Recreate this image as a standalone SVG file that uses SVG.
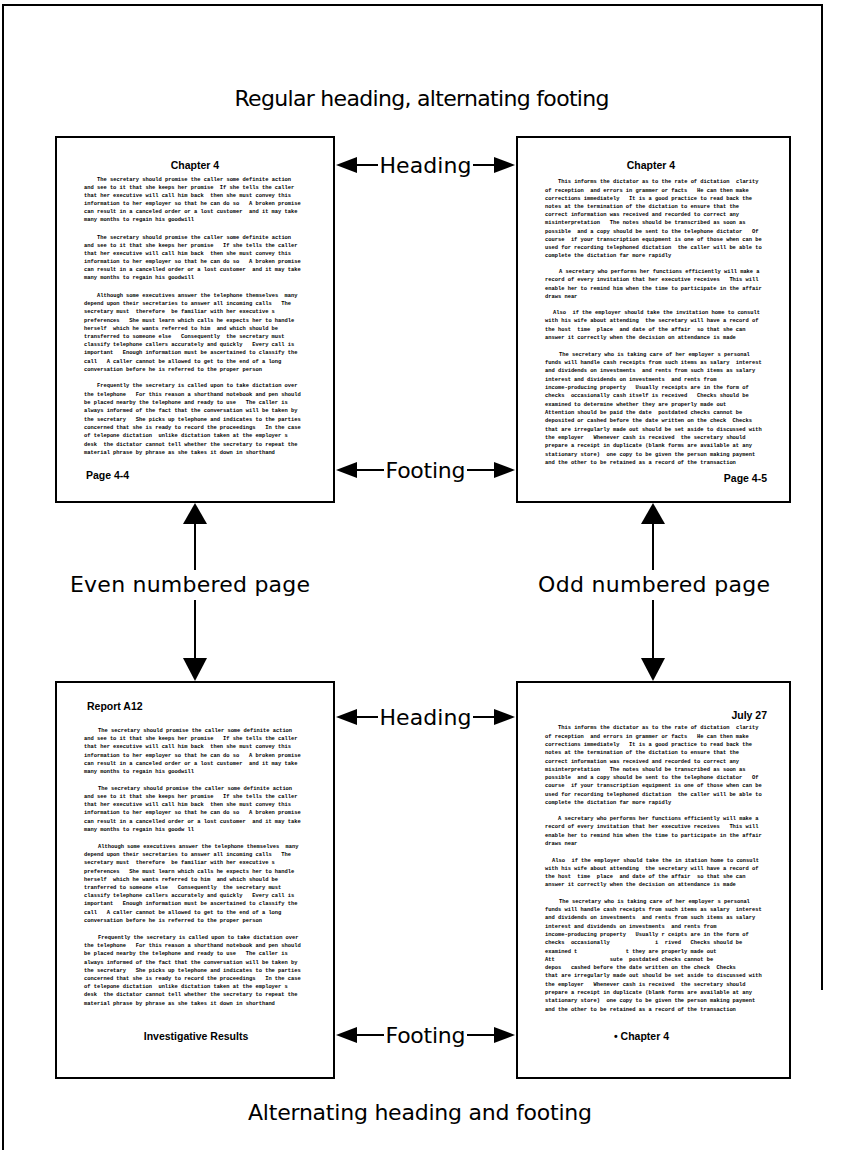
<svg xmlns="http://www.w3.org/2000/svg" width="844" height="1150" viewBox="0 0 844 1150">
<style>
.pg{fill:#fff;stroke:#000;stroke-width:2}
.bd{font-family:"Liberation Mono","DejaVu Sans Mono",monospace;font-size:5.4px;font-weight:bold;fill:#000;white-space:pre}
.hd{font-family:"Liberation Sans",Arial,sans-serif;font-size:10.5px;font-weight:bold;fill:#000}
.lb{font-family:"DejaVu Sans","Liberation Sans",sans-serif;font-size:22px;fill:#000}
.ln{stroke:#000;stroke-width:2;fill:none}
.ah{fill:#000;stroke:none}
</style>
<rect width="844" height="1150" fill="#fff"/>
<path id="frame" class="ln" d="M3,1150 V5 H822 V990" stroke-width="1.5"/>

<text class="lb" x="422" y="106" text-anchor="middle" font-size="21" textLength="375">Regular heading, alternating footing</text>
<text class="lb" x="420" y="1120" text-anchor="middle" font-size="21" textLength="344">Alternating heading and footing</text>

<g id="page-top-left">
<rect class="pg" x="56" y="137" width="278" height="365"/>
<text class="hd" x="195" y="169" text-anchor="middle">Chapter 4</text>
<text class="bd" xml:space="preserve"><tspan x="97" y="181">The secretary should promise the caller some definite action</tspan><tspan x="84" y="189">and see to it that she keeps her promise  If she tells the caller</tspan><tspan x="84" y="197">that her executive will call him back  then she must convey this</tspan><tspan x="84" y="205">information to her employer so that he can do so   A broken promise</tspan><tspan x="84" y="213">can result in a canceled order or a lost customer  and it may take</tspan><tspan x="84" y="221">many months to regain his goodwill</tspan></text>
<text class="bd" xml:space="preserve"><tspan x="97" y="239">The secretary should promise the caller some definite action</tspan><tspan x="84" y="247">and see to it that she keeps her promise   If she tells the caller</tspan><tspan x="84" y="255">that her executive will call him back  then she must convey this</tspan><tspan x="84" y="263">information to her employer so that he can do so   A broken promise</tspan><tspan x="84" y="271">can result in a cancelled order or a lost customer  and it may take</tspan><tspan x="84" y="279">many months to regain his goodwill</tspan></text>
<text class="bd" xml:space="preserve"><tspan x="97" y="297">Although some executives answer the telephone themselves  many</tspan><tspan x="84" y="305.2">depend upon their secretaries to answer all incoming calls   The</tspan><tspan x="84" y="313.4">secretary must  therefore  be familiar with her executive s</tspan><tspan x="84" y="321.6">preferences   She must learn which calls he expects her to handle</tspan><tspan x="84" y="329.8">herself  which he wants referred to him  and which should be</tspan><tspan x="84" y="338">transferred to someone else   Consequently  the secretary must</tspan><tspan x="84" y="346.2">classify telephone callers accurately and quickly   Every call is</tspan><tspan x="84" y="354.4">important   Enough information must be ascertained to classify the</tspan><tspan x="84" y="362.6">call   A caller cannot be allowed to get to the end of a long</tspan><tspan x="84" y="370.8">conversation before he is referred to the proper person</tspan></text>
<text class="bd" xml:space="preserve"><tspan x="97" y="387.3">Frequently the secretary is called upon to take dictation over</tspan><tspan x="84" y="395.6">the telephone   For this reason a shorthand notebook and pen should</tspan><tspan x="84" y="404">be placed nearby the telephone and ready to use   The caller is</tspan><tspan x="84" y="412.3">always informed of the fact that the conversation will be taken by</tspan><tspan x="84" y="420.6">the secretary   She picks up telephone and indicates to the parties</tspan><tspan x="84" y="429">concerned that she is ready to record the proceedings   In the case</tspan><tspan x="84" y="437.3">of telepone dictation  unlike dictation taken at the employer s</tspan><tspan x="84" y="445.6">desk  the dictator cannot tell whether the secretary to repeat the</tspan><tspan x="84" y="454">material phrase by phrase as she takes it down in shorthand</tspan></text>
<text class="hd" x="86" y="479">Page 4-4</text>
</g>

<g id="page-top-right">
<rect class="pg" x="517" y="137" width="273" height="365"/>
<text class="hd" x="651" y="169" text-anchor="middle">Chapter 4</text>
<text class="bd" xml:space="preserve"><tspan x="558" y="183.3">This informs the dictator as to the rate of dictation  clarity</tspan><tspan x="545" y="191.5">of reception  and errors in grammer or facts   He can then make</tspan><tspan x="545" y="199.7">corrections immediately   It is a good practice to read back the</tspan><tspan x="545" y="207.9">notes at the termination of the dictation to ensure that the</tspan><tspan x="545" y="216.1">correct information was received and recorded to correct any</tspan><tspan x="545" y="224.3">misinterpretation   The notes should be transcribed as soon as</tspan><tspan x="545" y="232.5">possible  and a copy should be sent to the telephone dictator   Of</tspan><tspan x="545" y="240.7">course  if your transcription equipment is one of those when can be</tspan><tspan x="545" y="248.9">used for recording telephoned dictation  the caller will be able to</tspan><tspan x="545" y="257">complete the dictation far more rapidly</tspan></text>
<text class="bd" xml:space="preserve"><tspan x="559" y="273.3">A secretary who performs her functions efficiently will make a</tspan><tspan x="545" y="281.4">record of every invitation that her executive receives   This will</tspan><tspan x="545" y="289.5">enable her to remind him when the time to participate in the affair</tspan><tspan x="545" y="297.7">draws near</tspan></text>
<text class="bd" xml:space="preserve"><tspan x="553" y="314">Also  if the employer should take the invitation home to consult</tspan><tspan x="545" y="322.3">with his wife about attending  the secretary will have a record of</tspan><tspan x="545" y="330.7">the host  time  place  and date of the affair  so that she can</tspan><tspan x="545" y="339">answer it correctly when the decision on attendance is made</tspan></text>
<text class="bd" xml:space="preserve"><tspan x="559" y="355.7">The secretary who is taking care of her employer s personal</tspan><tspan x="545" y="364">funds will handle cash receipts from such items as salary  interest</tspan><tspan x="545" y="372.4">and dividends on investments  and rents from such items as salary</tspan><tspan x="545" y="380.7">interest and dividends on investments  and rents from</tspan><tspan x="545" y="389">income-producing property   Usually receipts are in the form of</tspan><tspan x="545" y="397.4">checks  occasionally cash itself is received   Checks should be</tspan><tspan x="545" y="405.7">examined to determine whether they are properly made out</tspan><tspan x="545" y="414">Attention should be paid the date  postdated checks cannot be</tspan><tspan x="545" y="422.3">deposited or cashed before the date written on the check  Checks</tspan><tspan x="545" y="430.7">that are irregularly made out should be set aside to discussed with</tspan><tspan x="545" y="439">the employer   Whenever cash is received  the secretary should</tspan><tspan x="545" y="447.3">prepare a receipt in duplicate (blank forms are available at any</tspan><tspan x="545" y="455.7">stationary store)  one copy to be given the person making payment</tspan><tspan x="545" y="464">and the other to be retained as a record of the transaction</tspan></text>
<text class="hd" x="767" y="482" text-anchor="end">Page 4-5</text>
</g>

<g id="page-bottom-left">
<rect class="pg" x="56" y="682" width="278" height="396"/>
<text class="hd" x="87" y="710">Report A12</text>
<text class="bd" xml:space="preserve"><tspan x="98" y="731.7">The secretary should promise the caller some definite action</tspan><tspan x="84" y="740">and see to it that she keeps her promise   If she tells the caller</tspan><tspan x="84" y="748.3">that her executive will call him back  then she must convey this</tspan><tspan x="84" y="756.7">information to her employer so that he can do so   A broken promise</tspan><tspan x="84" y="765">can result in a canceled order or a lost customer  and it may take</tspan><tspan x="84" y="773.3">many months to regain his goodwill</tspan></text>
<text class="bd" xml:space="preserve"><tspan x="98" y="790">The secretary should promise the caller some definite action</tspan><tspan x="84" y="798.3">and see to it that she keeps her promise   If she tells the caller</tspan><tspan x="84" y="806.3">that her executive will call him back  then she must convey this</tspan><tspan x="84" y="814.3">information to her employer so that he can do so   A broken promise</tspan><tspan x="84" y="822.7">can result in a cancelled order or a lost customer  and it may take</tspan><tspan x="84" y="831">many months to regain his goodw ll</tspan></text>
<text class="bd" xml:space="preserve"><tspan x="98" y="848">Although some executives answer the telephone themselves  many</tspan><tspan x="84" y="856.2">depend upon their secretaries to answer all incoming calls   The</tspan><tspan x="84" y="864.4">secretary must  therefore  be familiar with her executive s</tspan><tspan x="84" y="872.6">preferences   She must learn which calls he expects her to handle</tspan><tspan x="84" y="880.8">herself  which he wants referred to him  and which should be</tspan><tspan x="84" y="889">tranferred to someone else   Consequently  the secretary must</tspan><tspan x="84" y="897.2">classify telephone callers accurately and quickly   Every call is</tspan><tspan x="84" y="905.4">important   Enough information must be ascertained to classify the</tspan><tspan x="84" y="913.6">call   A caller cannot be allowed to get to the end of a long</tspan><tspan x="84" y="921.8">conversation before he is referred to the proper person</tspan></text>
<text class="bd" xml:space="preserve"><tspan x="98" y="939">Frequently the secretary is called upon to take dictation over</tspan><tspan x="84" y="947.2">the telephone   For this reason a shorthand notebook and pen should</tspan><tspan x="84" y="955.4">be placed nearby the telephone and ready to use   The caller is</tspan><tspan x="84" y="963.6">always informed of the fact that the conversation will be taken by</tspan><tspan x="84" y="971.8">the secretary   She picks up telephone and indicates to the parties</tspan><tspan x="84" y="980">concerned that she is ready to record the proceedings   In the case</tspan><tspan x="84" y="988.2">of telepone dictation  unlike dictation taken at the employer s</tspan><tspan x="84" y="996.4">desk  the dictator cannot tell whether the secretary to repeat the</tspan><tspan x="84" y="1004.6">material phrase by phrase as she takes it down in shorthand</tspan></text>
<text class="hd" x="196" y="1040" text-anchor="middle">Investigative Results</text>
</g>

<g id="page-bottom-right">
<rect class="pg" x="517" y="682" width="273" height="396"/>
<text class="hd" x="767" y="719" text-anchor="end">July 27</text>
<text class="bd" xml:space="preserve"><tspan x="558" y="729.3">This informs the dictator as to the rate of dictation  clarity</tspan><tspan x="545" y="737.6">of reception  and errors in grammer or facts   He can then make</tspan><tspan x="545" y="745.9">corrections immediately   It is a good practice to read back the</tspan><tspan x="545" y="754.2">notes at the termination of the dictation to ensure that the</tspan><tspan x="545" y="762.5">correct information was received and recorded to correct any</tspan><tspan x="545" y="770.8">misinterpretation   The notes should be transcribed as soon as</tspan><tspan x="545" y="779.1">possible  and a copy should be sent to the telephone dictator   Of</tspan><tspan x="545" y="787.4">course  if your transcription equipment is one of those when can be</tspan><tspan x="545" y="795.7">used for recording telephoned dictation  the caller will be able to</tspan><tspan x="545" y="804">complete the dictation far more rapidly</tspan></text>
<text class="bd" xml:space="preserve"><tspan x="558" y="820">A secretary who performs her functions efficiently will make a</tspan><tspan x="545" y="828.3">record of every invitation that her executive receives   This will</tspan><tspan x="545" y="836.7">enable her to remind him when the time to participate in the affair</tspan><tspan x="545" y="845">draws near</tspan></text>
<text class="bd" xml:space="preserve"><tspan x="552" y="861.7">Also  if the employer should take the in itation home to consult</tspan><tspan x="545" y="870">with his wife about attending  the secretary will have a record of</tspan><tspan x="545" y="878">the host  time  place  and date of the affair  so that she can</tspan><tspan x="545" y="886.3">answer it correctly when the decision on attendance is made</tspan></text>
<text class="bd" xml:space="preserve"><tspan x="559" y="902.7">The secretary who is taking care of her employer s personal</tspan><tspan x="545" y="911">funds will handle cash receipts from such items as salary  interest</tspan><tspan x="545" y="919.3">and dividends on investments  and rents from such items as salary</tspan><tspan x="545" y="927.6">interest and dividends on investments  and rents from</tspan><tspan x="545" y="935.9">income-producing property   Usually r ceipts are in the form of</tspan><tspan x="545" y="944.2">checks  occasionally              i  rived   Checks should be</tspan><tspan x="545" y="952.5">examined t               t they are properly made out</tspan><tspan x="545" y="960.8">Att                 sute  postdated checks cannot be</tspan><tspan x="545" y="969.1">depos   cashed before the date written on the check  Checks</tspan><tspan x="545" y="977.4">that are irregularly made out should be set aside to discussed with</tspan><tspan x="545" y="985.7">the employer   Whenever cash is received  the secretary should</tspan><tspan x="545" y="994">prepare a receipt in duplicate (blank forms are available at any</tspan><tspan x="545" y="1002.3">stationary store)  one copy to be given the person making payment</tspan><tspan x="545" y="1010.6">and the other to be retained as a record of the transaction</tspan></text>
<text class="hd" x="614" y="1040">•  Chapter 4</text>
</g>

<g id="label-heading-top"><text class="lb" x="425.5" y="173" text-anchor="middle" textLength="92">Heading</text></g>
<g id="label-footing-top"><text class="lb" x="425.5" y="478" text-anchor="middle" textLength="80">Footing</text></g>
<g id="label-heading-bottom"><text class="lb" x="425.5" y="725" text-anchor="middle" textLength="92">Heading</text></g>
<g id="label-footing-bottom"><text class="lb" x="425.5" y="1043" text-anchor="middle" textLength="80">Footing</text></g>
<g id="label-even"><text class="lb" x="190" y="592" text-anchor="middle" font-size="23" textLength="240">Even numbered page</text></g>
<g id="label-odd"><text class="lb" x="654" y="592" text-anchor="middle" font-size="23" textLength="232">Odd numbered page</text></g>

<g id="connectors">
<path class="ln" d="M356,165 H378 M473,165 H495"/>
<polygon class="ah" points="336,165 357,157 357,173"/>
<polygon class="ah" points="515,165 494,157 494,173"/>
<path class="ln" d="M356,470 H384 M467,470 H495"/>
<polygon class="ah" points="336,470 357,462 357,478"/>
<polygon class="ah" points="515,470 494,462 494,478"/>
<path class="ln" d="M356,717 H378 M473,717 H495"/>
<polygon class="ah" points="336,717 357,709 357,725"/>
<polygon class="ah" points="515,717 494,709 494,725"/>
<path class="ln" d="M356,1035 H384 M467,1035 H495"/>
<polygon class="ah" points="336,1035 357,1027 357,1043"/>
<polygon class="ah" points="515,1035 494,1027 494,1043"/>
<path class="ln" d="M195,522 V570 M195,600 V660"/>
<polygon class="ah" points="195,503 183,524 207,524"/>
<polygon class="ah" points="195,681 183,658 207,658"/>
<path class="ln" d="M653,522 V570 M653,600 V660"/>
<polygon class="ah" points="653,503 641,524 665,524"/>
<polygon class="ah" points="653,681 641,658 665,658"/>
</g>
</svg>
